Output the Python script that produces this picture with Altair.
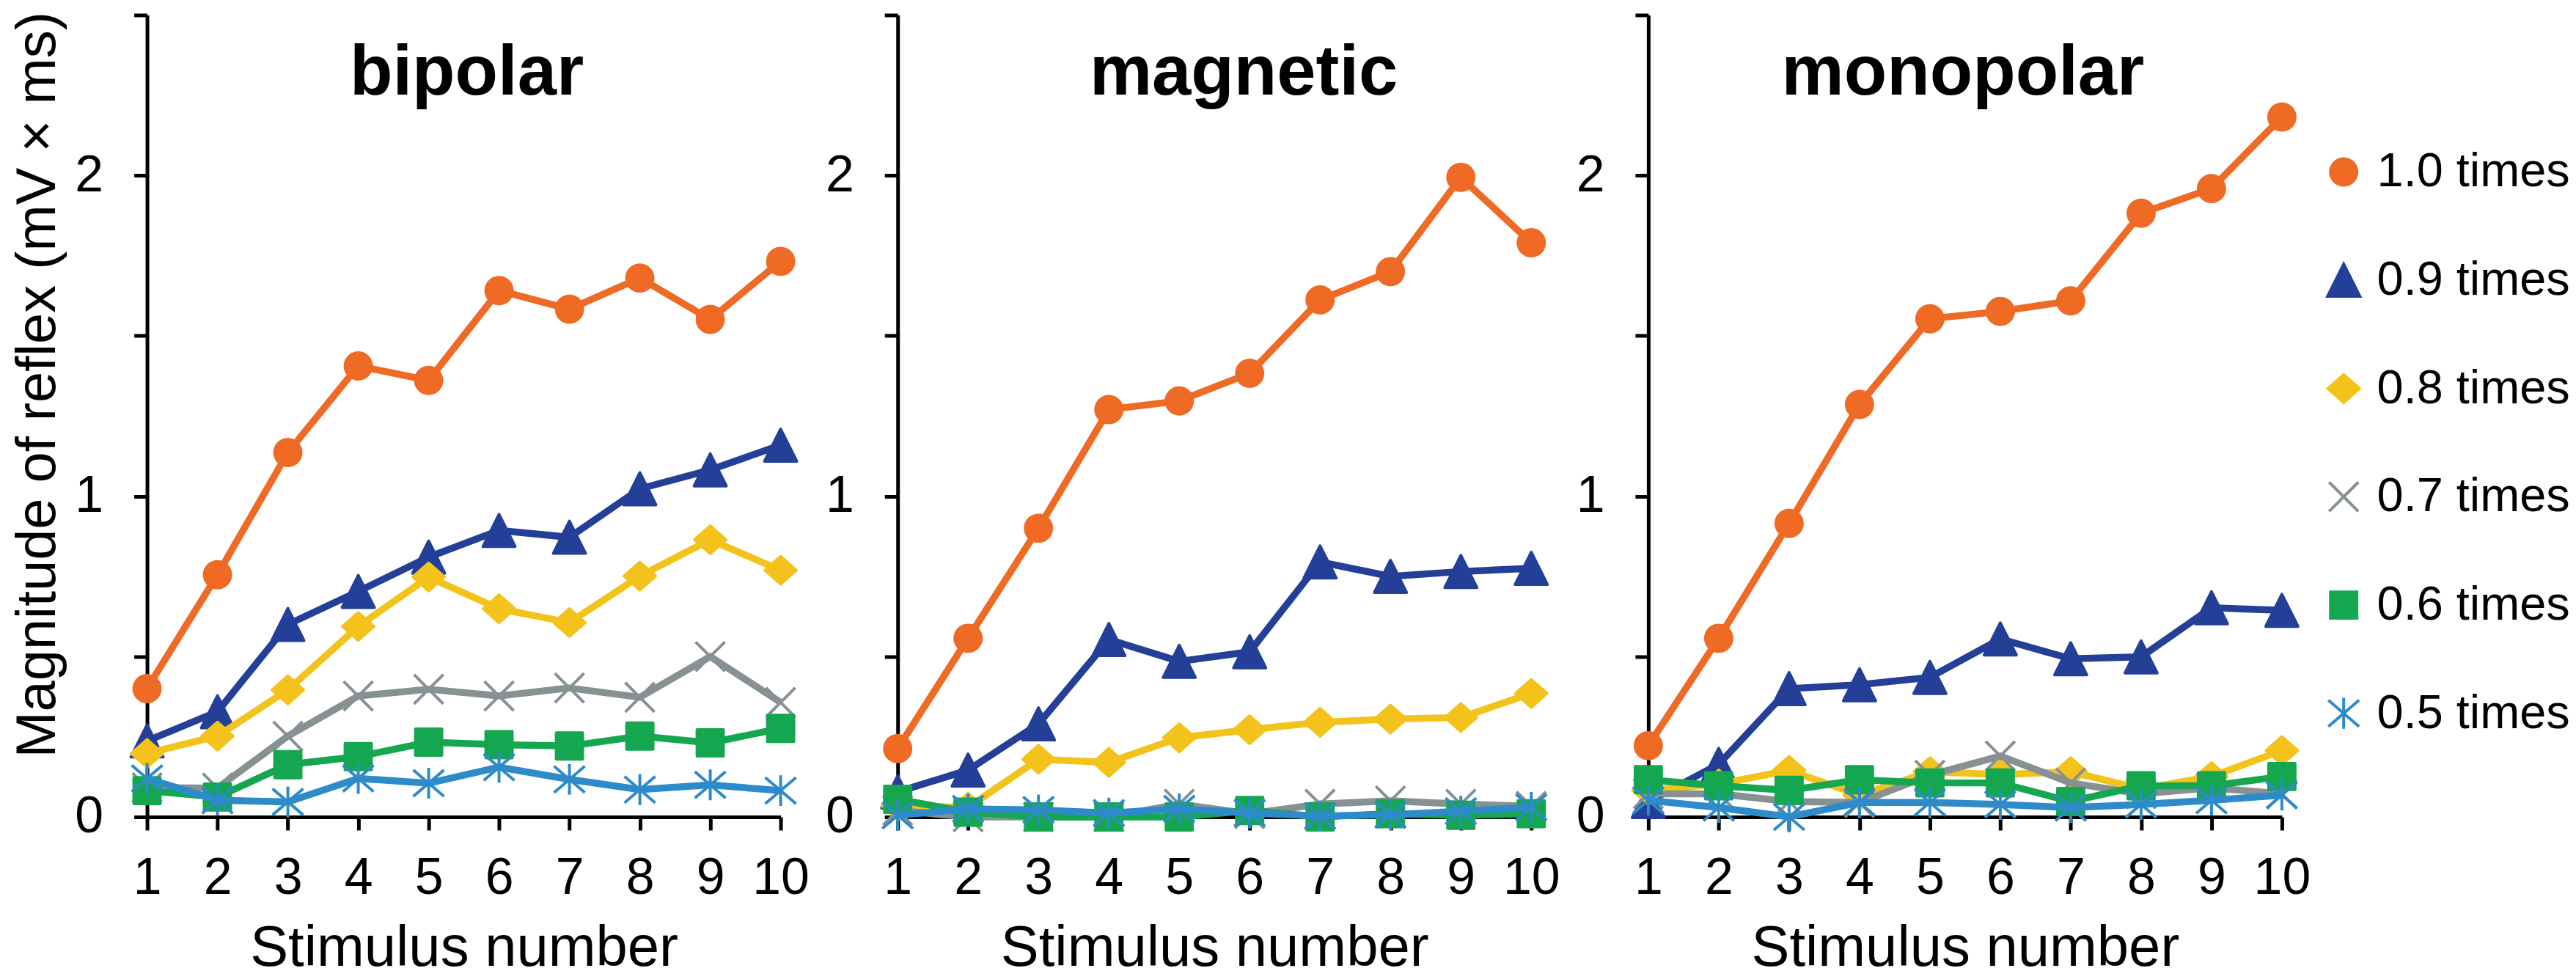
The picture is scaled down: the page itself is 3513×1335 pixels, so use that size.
import altair as alt
import pandas as pd
import numpy as np

# ---------------- data ----------------
panels = ["bipolar", "magnetic", "monopolar"]
levels = ["1.0 times", "0.9 times", "0.8 times", "0.7 times", "0.6 times", "0.5 times"]
stimulus = [1, 2, 3, 4, 5, 6, 7, 8, 9, 10]
y_title = "Magnitude of reflex (mV \u00d7 ms)"
x_title = "Stimulus number"

bipolar_10 = [0.40, 0.755, 1.136, 1.406, 1.361, 1.641, 1.583, 1.68, 1.551, 1.732]
bipolar_09 = [0.237, 0.328, 0.60, 0.703, 0.81, 0.893, 0.872, 1.023, 1.082, 1.159]
bipolar_08 = [0.198, 0.252, 0.396, 0.594, 0.748, 0.649, 0.606, 0.751, 0.864, 0.769]
bipolar_07 = [0.091, 0.09, 0.252, 0.377, 0.398, 0.377, 0.402, 0.373, 0.50, 0.357]
bipolar_06 = [0.082, 0.062, 0.163, 0.188, 0.233, 0.225, 0.221, 0.252, 0.231, 0.276]
bipolar_05 = [0.12, 0.052, 0.047, 0.12, 0.105, 0.155, 0.117, 0.085, 0.10, 0.082]

magnetic_10 = [0.213, 0.557, 0.90, 1.27, 1.297, 1.383, 1.612, 1.70, 1.994, 1.79]
magnetic_09 = [0.078, 0.146, 0.29, 0.553, 0.485, 0.515, 0.795, 0.75, 0.765, 0.775]
magnetic_08 = [0.035, 0.03, 0.18, 0.17, 0.247, 0.272, 0.295, 0.305, 0.31, 0.385]
magnetic_07 = [0.02, 0.0, 0.0, 0.0, 0.04, 0.01, 0.04, 0.05, 0.04, 0.033]
magnetic_06 = [0.055, 0.015, 0.0, 0.0, 0.0, 0.02, 0.0, 0.01, 0.005, 0.01]
magnetic_05 = [0.005, 0.025, 0.022, 0.012, 0.025, 0.012, 0.003, 0.007, 0.018, 0.03]

monopolar_10 = [0.222, 0.557, 0.915, 1.286, 1.553, 1.576, 1.609, 1.882, 1.959, 2.182]
monopolar_09 = [0.048, 0.164, 0.40, 0.412, 0.435, 0.555, 0.493, 0.499, 0.652, 0.644]
monopolar_08 = [0.083, 0.103, 0.145, 0.068, 0.141, 0.132, 0.141, 0.087, 0.126, 0.207]
monopolar_07 = [0.072, 0.072, 0.048, 0.045, 0.13, 0.19, 0.106, 0.072, 0.091, 0.072]
monopolar_06 = [0.116, 0.097, 0.083, 0.116, 0.106, 0.106, 0.048, 0.097, 0.097, 0.126]
monopolar_05 = [0.052, 0.029, 0.0, 0.045, 0.045, 0.039, 0.029, 0.039, 0.052, 0.068]

series = {
    "bipolar": [bipolar_10, bipolar_09, bipolar_08, bipolar_07, bipolar_06, bipolar_05],
    "magnetic": [magnetic_10, magnetic_09, magnetic_08, magnetic_07, magnetic_06, magnetic_05],
    "monopolar": [monopolar_10, monopolar_09, monopolar_08, monopolar_07, monopolar_06, monopolar_05],
}

rows = []
for p in panels:
    for lev, vals in zip(levels, series[p]):
        for s, v in zip(stimulus, vals):
            rows.append({"panel": p, "level": lev, "stim": s, "value": v})
df = pd.DataFrame(rows)

# ---------------- styles ----------------
FONT = "Liberation Sans"
colors = ["#EF6A25", "#233F98", "#F3C31C", "#879092", "#15A650", "#2E8BC9"]


def poly_circle(r, n=40):
    pts = [(r * np.cos(2 * np.pi * k / n), r * np.sin(2 * np.pi * k / n)) for k in range(n)]
    return "M" + "L".join(f"{x:.3f},{y:.3f}" for x, y in pts) + "Z"


shapes = [
    poly_circle(0.9),
    "M0,-1.1L1.1,1.1L-1.1,1.1Z",
    "M-1.075,0L0,-0.95L1.075,0L0,0.95Z",
    "M-1,-1L1,1M-1,1L1,-1",
    "M-0.9,-0.9L0.9,-0.9L0.9,0.9L-0.9,0.9Z",
    "M0,-1.05L0,1.05M-1.05,-0.9L1.05,0.9M-1.05,0.9L1.05,-0.9",
]

W, H = 866, 1096
title_x = {"bipolar": 437, "magnetic": 473, "monopolar": 430}

color_scale = alt.Scale(domain=levels, range=colors)
shape_scale = alt.Scale(domain=levels, range=shapes)

leg = dict(
    title=None,
    orient="none",
    legendX=2970,
    legendY=182,
    labelFont=FONT,
    labelFontSize=65,
    labelColor="black",
    labelOffset=13,
    labelLimit=600,
    symbolSize=1600,
    symbolStrokeWidth=4,
    rowPadding=82,
    padding=0,
)


def make_panel(i, name):
    sub = df[df["panel"] == name]
    x = alt.X(
        "stim:Q",
        scale=alt.Scale(domain=[1, 10], nice=False, zero=False),
        axis=alt.Axis(
            values=stimulus, format="d", title=x_title, labelPadding=32,
            titlePadding=22, titleFontSize=78, labelFlush=False, labelOverlap=False,
        ),
    )
    yaxis_kw = dict(
        values=[0, 0.5, 1, 1.5, 2, 2.5],
        labelExpr="datum.value % 1 == 0 ? format(datum.value, 'd') : ''",
        labelFontSize={"condition": {"test": "datum.value % 1 != 0", "value": 0}, "value": 70},
        labelPadding=42,
        labelOverlap=False,
        labelFlush=False,
    )
    if i == 0:
        yaxis_kw.update(title=y_title, titlePadding=11, titleFontSize=76, titleY=505)
    else:
        yaxis_kw.update(title=None)
    y = alt.Y("value:Q", scale=alt.Scale(domain=[0, 2.5], nice=False), axis=alt.Axis(**yaxis_kw))

    layers = []
    for lev, col in zip(levels, colors):
        part = alt.Chart(sub[sub["level"] == lev])
        layers.append(part.mark_line(strokeWidth=9.5, color=col).encode(x=x, y=y))
        layers.append(
            part.mark_point(filled=True, size=1600, strokeWidth=4, opacity=1, strokeJoin="round").encode(
                x=x,
                y=y,
                color=alt.Color("level:N", scale=color_scale, legend=alt.Legend(**leg)),
                stroke=alt.Stroke("level:N", scale=color_scale, legend=alt.Legend(**leg)),
                shape=alt.Shape("level:N", scale=shape_scale, legend=alt.Legend(**leg)),
            )
        )
    ttl = alt.Chart(pd.DataFrame({"panel": [name]})).mark_text(
        font=FONT, fontSize=96, fontWeight="bold", align="center", baseline="alphabetic", color="black"
    ).encode(text="panel:N", x=alt.value(title_x[name]), y=alt.value(109))
    layers.append(ttl)
    return alt.layer(*layers).properties(width=W, height=H)


chart = alt.hconcat(
    *[make_panel(i, p) for i, p in enumerate(panels)], spacing=160, bounds="flush"
).properties(
    padding={"left": 6, "top": 5, "right": 0, "bottom": 0}
).configure_view(stroke=None).configure_axis(
    domainColor="black", domainWidth=5, tickColor="black", tickWidth=5, tickSize=18,
    labelFont=FONT, labelFontSize=70, labelColor="black",
    titleFont=FONT, titleColor="black", titleFontWeight="normal", grid=False,
)

chart.save("out.html", embed_options={"renderer": "svg", "actions": False})
